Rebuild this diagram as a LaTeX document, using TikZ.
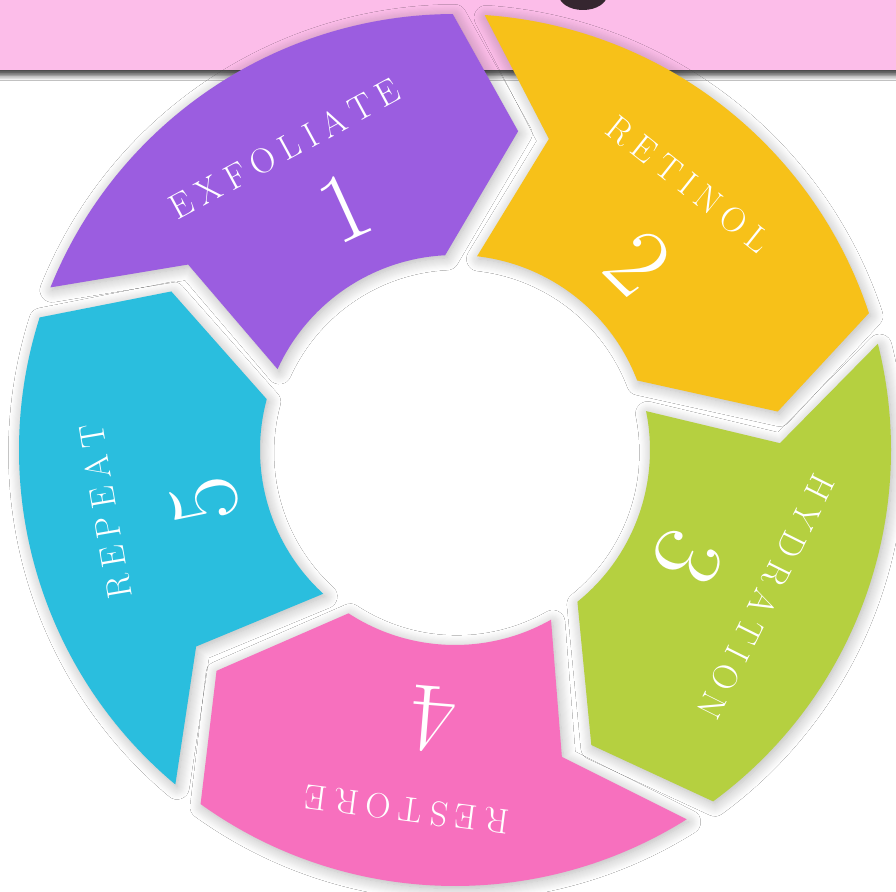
\documentclass[tikz,border=0pt]{standalone}
\usepackage{fontspec}
\usetikzlibrary{shadows.blur}

\definecolor{bannerpink}{HTML}{FCBDE9}
\definecolor{exfolcol}{HTML}{9B5DE0}
\definecolor{retincol}{HTML}{F7C119}
\definecolor{hydrcol}{HTML}{B5D040}
\definecolor{restcol}{HTML}{F770BE}
\definecolor{repcol}{HTML}{2ABEDE}
\definecolor{descdark}{HTML}{35262F}

% ring sizes (cm)
\newcommand{\Rout}{8.72}
\newcommand{\Rin}{3.9}
\newcommand{\Rtip}{6.5}
\newcommand{\tipoff}{12.2}

% wide letter spacing for the step names
\newcommand{\spaceout}[1]{\expandafter\spaceoutaux#1\relax\unkern}
\def\spaceoutaux#1{\ifx#1\relax\else#1\kern0.22em\expandafter\spaceoutaux\fi}

\tikzset{
  segment/.style={fill=#1, draw=none, blur shadow={shadow xshift=1pt, shadow yshift=-1.5pt, shadow blur radius=7pt, shadow blur steps=12, shadow opacity=30}},
  steplabel/.style={text=white, inner sep=0pt, font=\fontsize{20}{20}\selectfont},
  stepnum/.style={text=white, inner sep=0pt, font=\fontsize{56}{56}\selectfont},
}

\begin{document}
\begin{tikzpicture}
\useasboundingbox (-9.1,-8.84) rectangle (8.82,9.0);
\fill[white] (-9.1,-8.84) rectangle (8.82,9.0);

% banner at the top
\fill[bannerpink, blur shadow={shadow xshift=0pt, shadow yshift=-3pt, shadow blur radius=3pt, shadow opacity=75}] (-9.8,7.6) rectangle (9.5,9.6);
\fill[descdark] (2.56,9.1) ellipse[x radius=0.48, y radius=0.3];

% the five arrow segments
\foreach \b/\col in {160.2/exfolcol, 88.2/retincol, 16.2/hydrcol, -55.8/restcol, -127.8/repcol} {
  \pgfmathsetmacro{\fend}{\b-72}
  \fill[segment=\col] (\b-2.1:\Rout) arc[start angle=\b-2.1, end angle=\fend+2.1, radius=\Rout]
    -- (\fend-\tipoff+2.8:\Rtip) -- (\fend+4.7:\Rin)
    arc[start angle=\fend+4.7, end angle=\b-4.7, radius=\Rin]
    -- (\b-\tipoff-2.8:\Rtip) -- cycle;
}

% labels and numbers
\foreach \name/\ta/\tr/\rot/\num/\na/\nr [count=\k] in {
    EXFOLIATE/119.5/6.92/28.5/1/114.5/5.34,
    RETINOL/48.7/7.08/-38.5/2/45.6/5.24,
    HYDRATION/-25.3/6.88/-116.5/3/-24.7/5.12,
    RESTORE/-97.6/7.26/172.7/4/-94.7/5.4,
    REPEAT/190/7.1/99.6/5/191.5/5.1} {
  \node[steplabel, rotate=\rot] (lab\k) at (\ta:\tr) {\spaceout{\name}};
  \node[stepnum, rotate=\na-90] (num\k) at (\na:\nr) {\num};
}

\end{tikzpicture}
\end{document}
